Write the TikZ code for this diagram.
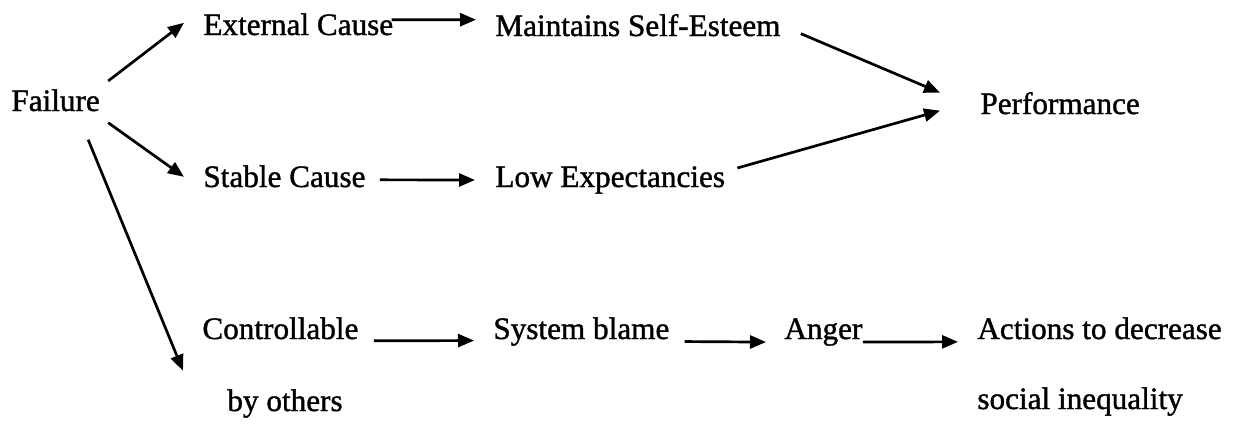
\documentclass[tikz,border=0pt]{standalone}
\usepackage{fontspec}
\setmainfont{Liberation Serif}[FakeBold=1.2]
\usetikzlibrary{arrows.meta}
\begin{document}
\begin{tikzpicture}[x=0.5pt,y=-0.5pt,
  lbl/.style={inner sep=0pt,anchor=base west,font=\fontsize{15.6pt}{18pt}\selectfont},
  arr/.style={line width=1.35pt,-{Triangle[length=8pt,width=6.5pt]}}]
\fill[white] (0,0) rectangle (1240,424);
\useasboundingbox (0,0) rectangle (1240,424);
% nodes
\node[lbl] (fail) at (11,111) {Failure};
\node[lbl] (ext)  at (203,35) {External Cause};
\node[lbl] (mse)  at (495,36) {Maintains Self-Esteem};
\node[lbl] (perf) at (980,114) {Performance};
\node[lbl] (stab) at (203,187) {Stable Cause};
\node[lbl] (low)  at (495,187) {Low Expectancies};
\node[lbl] (ctrl) at (202,339) {Controllable};
\node[lbl] (byo)  at (227,411) {by others};
\node[lbl] (sys)  at (493,339) {System blame};
\node[lbl] (ang)  at (784,339) {Anger};
\node[lbl] (act)  at (977,339) {Actions to decrease};
\node[lbl] (soc)  at (977,409) {social inequality};
% connectors
\draw[arr] ([shift={(8,-8)}]fail.north east) -- ([shift={(-19,-1.5)}]ext.west);
\draw[arr] ([shift={(8,11)}]fail.south east) -- ([shift={(-19,0.5)}]stab.west);
\draw[arr] ([shift={(-12,28)}]fail.south east) -- ([shift={(-19,31)}]ctrl.south west);
\draw[arr] ([shift={(-2,-4.5)}]ext.east) -- ([shift={(-19,-5.5)}]mse.west);
\draw[arr] ([shift={(14,3.5)}]stab.east) -- ([shift={(-20,0)}]low.west);
\draw[arr] ([shift={(20,8.5)}]mse.east) -- ([shift={(-40,-10.5)}]perf.west);
\draw[arr] ([shift={(12,-12)}]low.east) -- ([shift={(-40,7.5)}]perf.west);
\draw[arr] ([shift={(15,12.5)}]ctrl.east) -- ([shift={(-19,9)}]sys.west);
\draw[arr] ([shift={(15,10)}]sys.east) -- ([shift={(-18,10)}]ang.west);
\draw[arr] ([shift={(0,10)}]ang.east) -- ([shift={(-19,13.5)}]act.west);
\end{tikzpicture}
\end{document}
